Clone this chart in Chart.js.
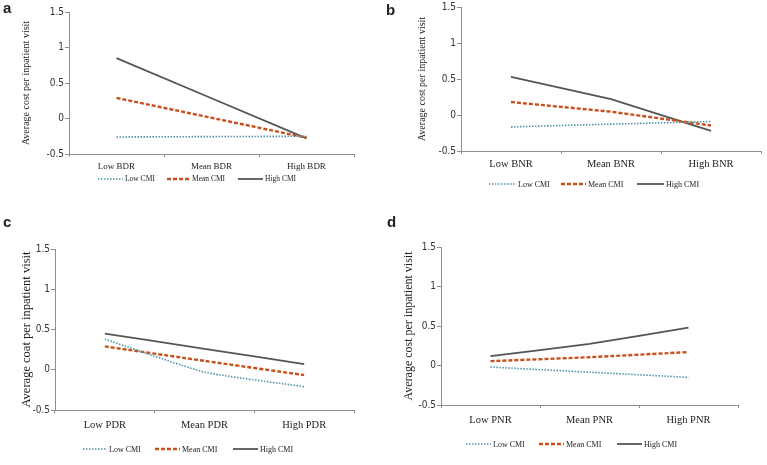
<!DOCTYPE html>
<html><head><meta charset="utf-8">
<script src="https://cdn.jsdelivr.net/npm/chart.js@4.4.0/dist/chart.umd.min.js"></script>
<style>
html,body{margin:0;padding:0;background:#fff;}
body{width:767px;height:465px;position:relative;overflow:hidden;}
canvas{position:absolute;display:block;}
.lbl{position:absolute;font:bold 15px "Liberation Sans",Arial,sans-serif;line-height:15px;color:#222;}
</style></head><body>
<canvas id="ca" width="384" height="232" style="left:0;top:0"></canvas>
<canvas id="cb" width="383" height="232" style="left:384px;top:0"></canvas>
<canvas id="cc" width="384" height="233" style="left:0;top:232px"></canvas>
<canvas id="cd" width="383" height="233" style="left:384px;top:232px"></canvas>
<div class="lbl" style="left:3px;top:0px">a</div>
<div class="lbl" style="left:386px;top:2px">b</div>
<div class="lbl" style="left:3px;top:214px">c</div>
<div class="lbl" style="left:387px;top:214px">d</div>
<script>
// ---- data ----
const seriesNames = ['Low CMI', 'Mean CMI', 'High CMI'];
const yTickValues = [-0.5, 0, 0.5, 1, 1.5];
const yTickLabels = ['-0.5', '0', '0.5', '1', '1.5'];

const catsA = ['Low BDR', 'Mean BDR', 'High BDR'];
const lowA  = [-0.26, -0.255, -0.25];
const meanA = [0.29, 0.01, -0.27];
const highA = [0.85, 0.285, -0.28];

const catsB = ['Low BNR', 'Mean BNR', 'High BNR'];
const lowB  = [-0.165, -0.127, -0.09];
const meanB = [0.18, 0.046, -0.145];
const highB = [0.53, 0.22, -0.22];

const catsC = ['Low PDR', 'Mean PDR', 'High PDR'];
const lowC  = [0.38, -0.03, -0.21];
const meanC = [0.29, 0.11, -0.066];
const highC = [0.45, 0.26, 0.07];

const catsD = ['Low PNR', 'Mean PNR', 'High PNR'];
const lowD  = [-0.02, -0.085, -0.15];
const meanD = [0.055, 0.105, 0.17];
const highD = [0.118, 0.275, 0.48];

const titleAB = 'Average cost per inpatient visit';
const titleC  = 'Average coat per inpatient visit';
const titleD  = 'Average cost per inpatient visit';

// ---- styles ----
const SERIF = '"Liberation Serif","Times New Roman",serif';
const NARROW = '"Liberation Sans Narrow","DejaVu Sans Condensed","Liberation Sans",Arial,sans-serif';
const AXIS = '#8e8e8e';
const colLow = '#4f94a8', colMean = '#c8501e', colHigh = '#555555';

const legendPlugin = {
  id: 'customLegend',
  afterDraw(chart, args, o) {
    const ctx = chart.ctx;
    ctx.save();
    chart.data.datasets.forEach((ds, i) => {
      const it = o.items[i];
      ctx.beginPath();
      ctx.setLineDash(ds.borderDash || []);
      ctx.strokeStyle = ds.borderColor;
      ctx.lineWidth = ds.borderWidth;
      ctx.moveTo(it[0], o.y);
      ctx.lineTo(it[1], o.y);
      ctx.stroke();
      ctx.setLineDash([]);
      ctx.fillStyle = '#222';
      ctx.font = o.fontSize + 'px ' + SERIF;
      ctx.textBaseline = 'middle';
      ctx.textAlign = 'left';
      ctx.fillText(ds.label, it[1] + 2, o.y + 0.5);
    });
    ctx.restore();
  }
};

function makeChart(id, cats, low, mean, high, title, L) {
  const canvas = document.getElementById(id);
  const H = canvas.height, W = canvas.width;
  new Chart(canvas, {
    type: 'line',
    data: {
      labels: cats,
      datasets: [
        {label: seriesNames[0], data: low, borderColor: colLow, borderWidth: 1.6, borderDash: [1.5, 1.5], tension: L.tension, pointRadius: 0, fill: false},
        {label: seriesNames[1], data: mean, borderColor: colMean, borderWidth: 2.4, borderDash: [4, 2], tension: L.tension, pointRadius: 0, fill: false},
        {label: seriesNames[2], data: high, borderColor: colHigh, borderWidth: 1.8, borderDash: [], tension: L.tension, pointRadius: 0, fill: false}
      ]
    },
    options: {
      responsive: false,
      animation: false,
      devicePixelRatio: 1,
      layout: {padding: {left: L.pl, right: W - L.right, top: L.top, bottom: H - L.bottom - 20}},
      plugins: {
        legend: {display: false},
        tooltip: {enabled: false},
        customLegend: {items: L.legItems, y: L.legY, fontSize: L.legFont}
      },
      scales: {
        x: {
          type: 'category',
          offset: true,
          grid: {display: true, offset: true, drawOnChartArea: false, drawTicks: true, tickLength: 3, color: AXIS},
          border: {display: true, color: AXIS, width: 1},
          ticks: {padding: L.xpad, color: '#222', font: {family: SERIF, size: L.catFont}, maxRotation: 0, autoSkip: false},
          afterFit: (s) => { s.height = 20; }
        },
        y: {
          min: -0.5, max: 1.5,
          afterBuildTicks: (s) => { s.ticks = yTickValues.map(v => ({value: v})); },
          grid: {display: true, drawOnChartArea: false, drawTicks: true, tickLength: 4, color: AXIS},
          border: {display: true, color: AXIS, width: 1},
          ticks: {
            padding: 1, color: '#333', font: {family: NARROW, size: 10},
            callback: (v) => { const i = yTickValues.indexOf(v); return i >= 0 ? yTickLabels[i] : ''; }
          },
          title: {display: true, text: title, color: '#222', font: {family: SERIF, size: L.titleFont}, padding: {top: L.tpad, bottom: 0}},
          afterFit: (s) => { s.width = L.left - L.pl; }
        }
      }
    },
    plugins: [legendPlugin]
  });
}

makeChart('ca', catsA, lowA, meanA, highA, titleAB, {
  pl: 14, left: 69, right: 354, top: 12, bottom: 154, tpad: 6, titleFont: 10,
  catFont: 9, xpad: 4, tension: 0,
  legItems: [[98, 123], [167, 190], [238, 263]], legY: 179, legFont: 7.5
});
makeChart('cb', catsB, lowB, meanB, highB, titleAB, {
  pl: 20, left: 77, right: 377, top: 7, bottom: 151, tpad: 12, titleFont: 10,
  catFont: 10.5, xpad: 4, tension: 0,
  legItems: [[105, 132], [177, 202], [253, 280]], legY: 184, legFont: 8
});
makeChart('cc', catsC, lowC, meanC, highC, titleC, {
  pl: 10, left: 55, right: 354, top: 17, bottom: 178, tpad: 9.5, titleFont: 12.5,
  catFont: 10.5, xpad: 6, tension: 0.15,
  legItems: [[83, 107], [155, 180], [233, 258]], legY: 217, legFont: 8
});
makeChart('cd', catsD, lowD, meanD, highD, titleD, {
  pl: 8, left: 57, right: 354, top: 15, bottom: 173, tpad: 10, titleFont: 12,
  catFont: 10.5, xpad: 6, tension: 0.15,
  legItems: [[82, 107], [155, 180], [233, 258]], legY: 212, legFont: 8
});
</script>
</body></html>
